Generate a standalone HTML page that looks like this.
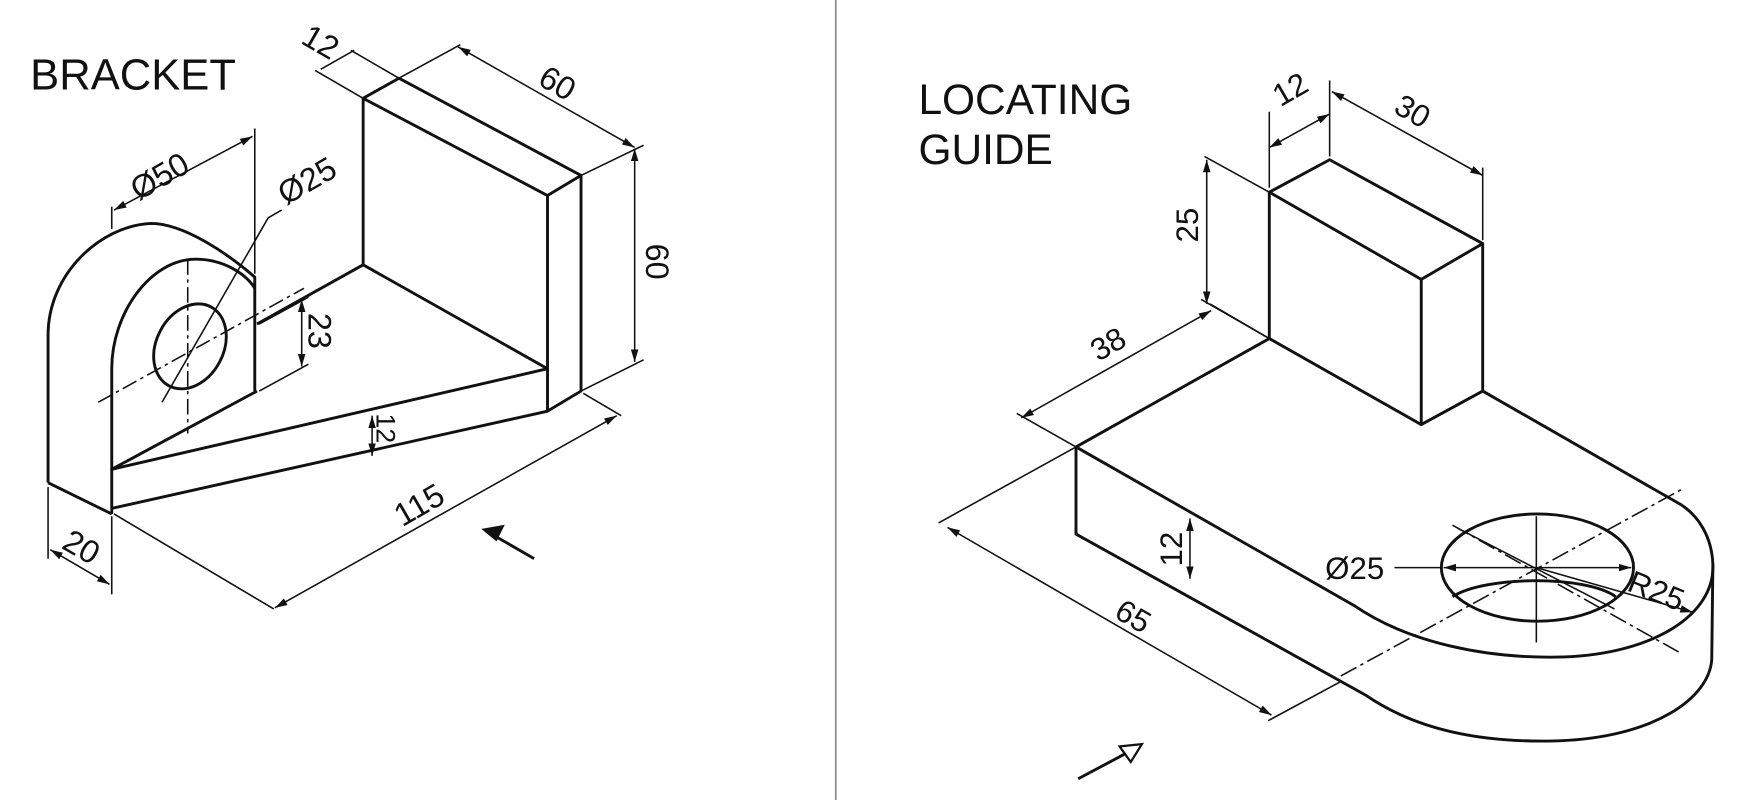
<!DOCTYPE html>
<html><head><meta charset="utf-8"><style>
html,body{margin:0;padding:0;background:#fff;}
svg{display:block;}
text{font-family:"Liberation Sans",sans-serif;fill:#111;}
</style></head><body>
<svg width="1752" height="800" viewBox="0 0 1568 716" xmlns="http://www.w3.org/2000/svg">
<defs>
<marker id="a" viewBox="0 0 10 10" refX="10" refY="5" markerWidth="8" markerHeight="8" orient="auto-start-reverse"><path d="M0,2 L10,5 L0,8z" fill="#111"/></marker>
</defs>
<rect width="1568" height="716" fill="#fff"/>
<line x1="748" y1="0" x2="748" y2="716" stroke="#888" stroke-width="1.5"/>

<text x="27" y="80" font-size="39">BRACKET</text>
<g fill="none" stroke="#111" stroke-width="2.6" stroke-linejoin="round">
<path d="M325,88 L357,70 L520,157 L490,175 Z"/>
<path d="M325,88 L325,237"/>
<path d="M490,175 L490,368 L520,350 L520,157"/>
<path d="M325,237 L490,330"/>
<path d="M325,237 L230,290"/>
<path d="M230,350 L100,420 L490,330"/>
<path d="M100,455 L490,368"/>
<path d="M43,432 L43,300 C43,245 90,202 135,200 C165,200 205,228 228,248 L228,350"/>
<path d="M100,460 L100,330 C100,280 135,232 175,232 C200,232 220,245 228,258"/>
<path d="M43,432 L100,460"/>
<ellipse cx="170" cy="310" rx="30" ry="40" transform="rotate(28 170 310)"/>
</g>
<g fill="none" stroke="#111" stroke-width="1.4">
<path d="M168,232 L168,388" stroke-dasharray="14,4,3,4"/>
<path d="M88,360 L272,258" stroke-dasharray="14,4,3,4"/>
<path d="M145,360 L240,195 L252,188"/>
<path d="M100,185 L100,205"/><path d="M228,115 L228,245"/>
<path d="M102,188 L226,122" marker-start="url(#a)" marker-end="url(#a)"/>
<path d="M232,290 L276,266"/><path d="M232,350 L276,326"/>
<path d="M270,268 L270,328" marker-start="url(#a)" marker-end="url(#a)"/>
<path d="M333,372 L333,408" marker-start="url(#a)" marker-end="url(#a)"/>
<path d="M520,157 L576,130"/><path d="M520,350 L576,322"/>
<path d="M568,133 L568,324" marker-start="url(#a)" marker-end="url(#a)"/>
<path d="M357,70 L412,40"/>
<path d="M410,42 L568,132" marker-start="url(#a)" marker-end="url(#a)"/>
<path d="M325,88 L282,63"/><path d="M357,70 L314,45"/>
<path d="M287,62 L317,45"/>
<path d="M43,436 L43,500"/><path d="M100,462 L100,532"/>
<path d="M45,492 L98,523" marker-start="url(#a)" marker-end="url(#a)"/>
<path d="M102,460 L245,545"/><path d="M522,352 L556,372"/>
<path d="M246,544 L552,372" marker-start="url(#a)" marker-end="url(#a)"/>
</g>
<path d="M478,500 L440,478" stroke="#111" stroke-width="2.6" fill="none"/>
<path d="M433,474 L450,471 L444,483z" fill="#111" stroke="#111" stroke-width="2"/>
<g font-size="29">
<text x="0" y="0" transform="translate(124,180) rotate(-30)">Ø50</text>
<text x="0" y="0" transform="translate(256,184) rotate(-30)">Ø25</text>
<text x="0" y="0" transform="translate(276,280) rotate(90)">23</text>
<text x="0" y="0" transform="translate(337,370) rotate(90)" font-size="24">12</text>
<text x="0" y="0" transform="translate(578,218) rotate(90)">60</text>
<text x="0" y="0" transform="translate(480,75) rotate(30)">60</text>
<text x="0" y="0" transform="translate(268,38) rotate(30)">12</text>
<text x="0" y="0" transform="translate(54,490) rotate(30)">20</text>
<text x="0" y="0" transform="translate(360,472) rotate(-30)">115</text>
</g>

<text x="822" y="102" font-size="38">LOCATING</text>
<text x="822" y="147" font-size="38">GUIDE</text>
<g fill="none" stroke="#111" stroke-width="2.6" stroke-linejoin="round">
<path d="M1136,172 L1190,143 L1327,218 L1272,250 Z"/>
<path d="M1136,172 L1136,303 L1272,380 L1272,250"/>
<path d="M1272,380 L1327,350 L1327,218"/>
<path d="M963,400 L1136,303"/>
<path d="M1327,350 L1505,452"/>
<path d="M963,400 L1212,542 C1260,575 1330,590 1400,588 C1480,585 1535,550 1533,505 C1532,480 1520,462 1505,452"/>
<path d="M963,400 L963,478 L1222,622 C1270,655 1330,665 1395,663 C1480,660 1530,625 1532,590 L1533,505"/>
<ellipse cx="1376" cy="508" rx="86" ry="48"/>
<path d="M1300,534 C1330,515 1420,515 1446,534"/>
</g>
<g fill="none" stroke="#111" stroke-width="1.4">
<path d="M1375,462 L1375,575"/>
<path d="M1300,470 L1505,585" stroke-dasharray="16,4,3,4"/>
<path d="M1200,605 L1505,438" stroke-dasharray="16,4,3,4"/>
<path d="M1305,473 L1445,545"/>
<path d="M1248,508 L1290,508"/>
<path d="M1292,508 L1460,508" marker-start="url(#a)" marker-end="url(#a)"/>
<path d="M1375,508 L1515,548" marker-end="url(#a)"/>
<path d="M1065,464 L1065,518" marker-start="url(#a)" marker-end="url(#a)"/>
<path d="M963,400 L840,468"/>
<path d="M1200,610 L1135,645"/>
<path d="M848,472 L1138,640" marker-start="url(#a)" marker-end="url(#a)"/>
<path d="M963,400 L910,370"/><path d="M1136,303 L1083,272"/>
<path d="M914,374 L1084,278" marker-start="url(#a)" marker-end="url(#a)"/>
<path d="M1136,172 L1078,140"/><path d="M1136,303 L1075,268"/>
<path d="M1080,143 L1080,272" marker-start="url(#a)" marker-end="url(#a)"/>
<path d="M1136,168 L1136,100"/><path d="M1190,140 L1190,72"/>
<path d="M1136,132 L1190,102" marker-start="url(#a)" marker-end="url(#a)"/>
<path d="M1327,215 L1327,150"/>
<path d="M1192,82 L1327,157" marker-start="url(#a)" marker-end="url(#a)"/>
</g>
<path d="M965,697 L1012,672" stroke="#111" stroke-width="2.6" fill="none"/>
<path d="M1022,666 L1002,668 L1012,682z" fill="#fff" stroke="#111" stroke-width="2"/>
<g font-size="28">
<text x="1186" y="518">Ø25</text>
<text x="0" y="0" transform="translate(1455,528) rotate(22)">R25</text>
<text x="0" y="0" transform="translate(1058,507) rotate(-90)">12</text>
<text x="0" y="0" transform="translate(996,552) rotate(30)">65</text>
<text x="0" y="0" transform="translate(983,324) rotate(-30)">38</text>
<text x="0" y="0" transform="translate(1072,217) rotate(-90)">25</text>
<text x="0" y="0" transform="translate(1146,96) rotate(-30)">12</text>
<text x="0" y="0" transform="translate(1246,100) rotate(30)">30</text>
</g>
</svg>
</body></html>
